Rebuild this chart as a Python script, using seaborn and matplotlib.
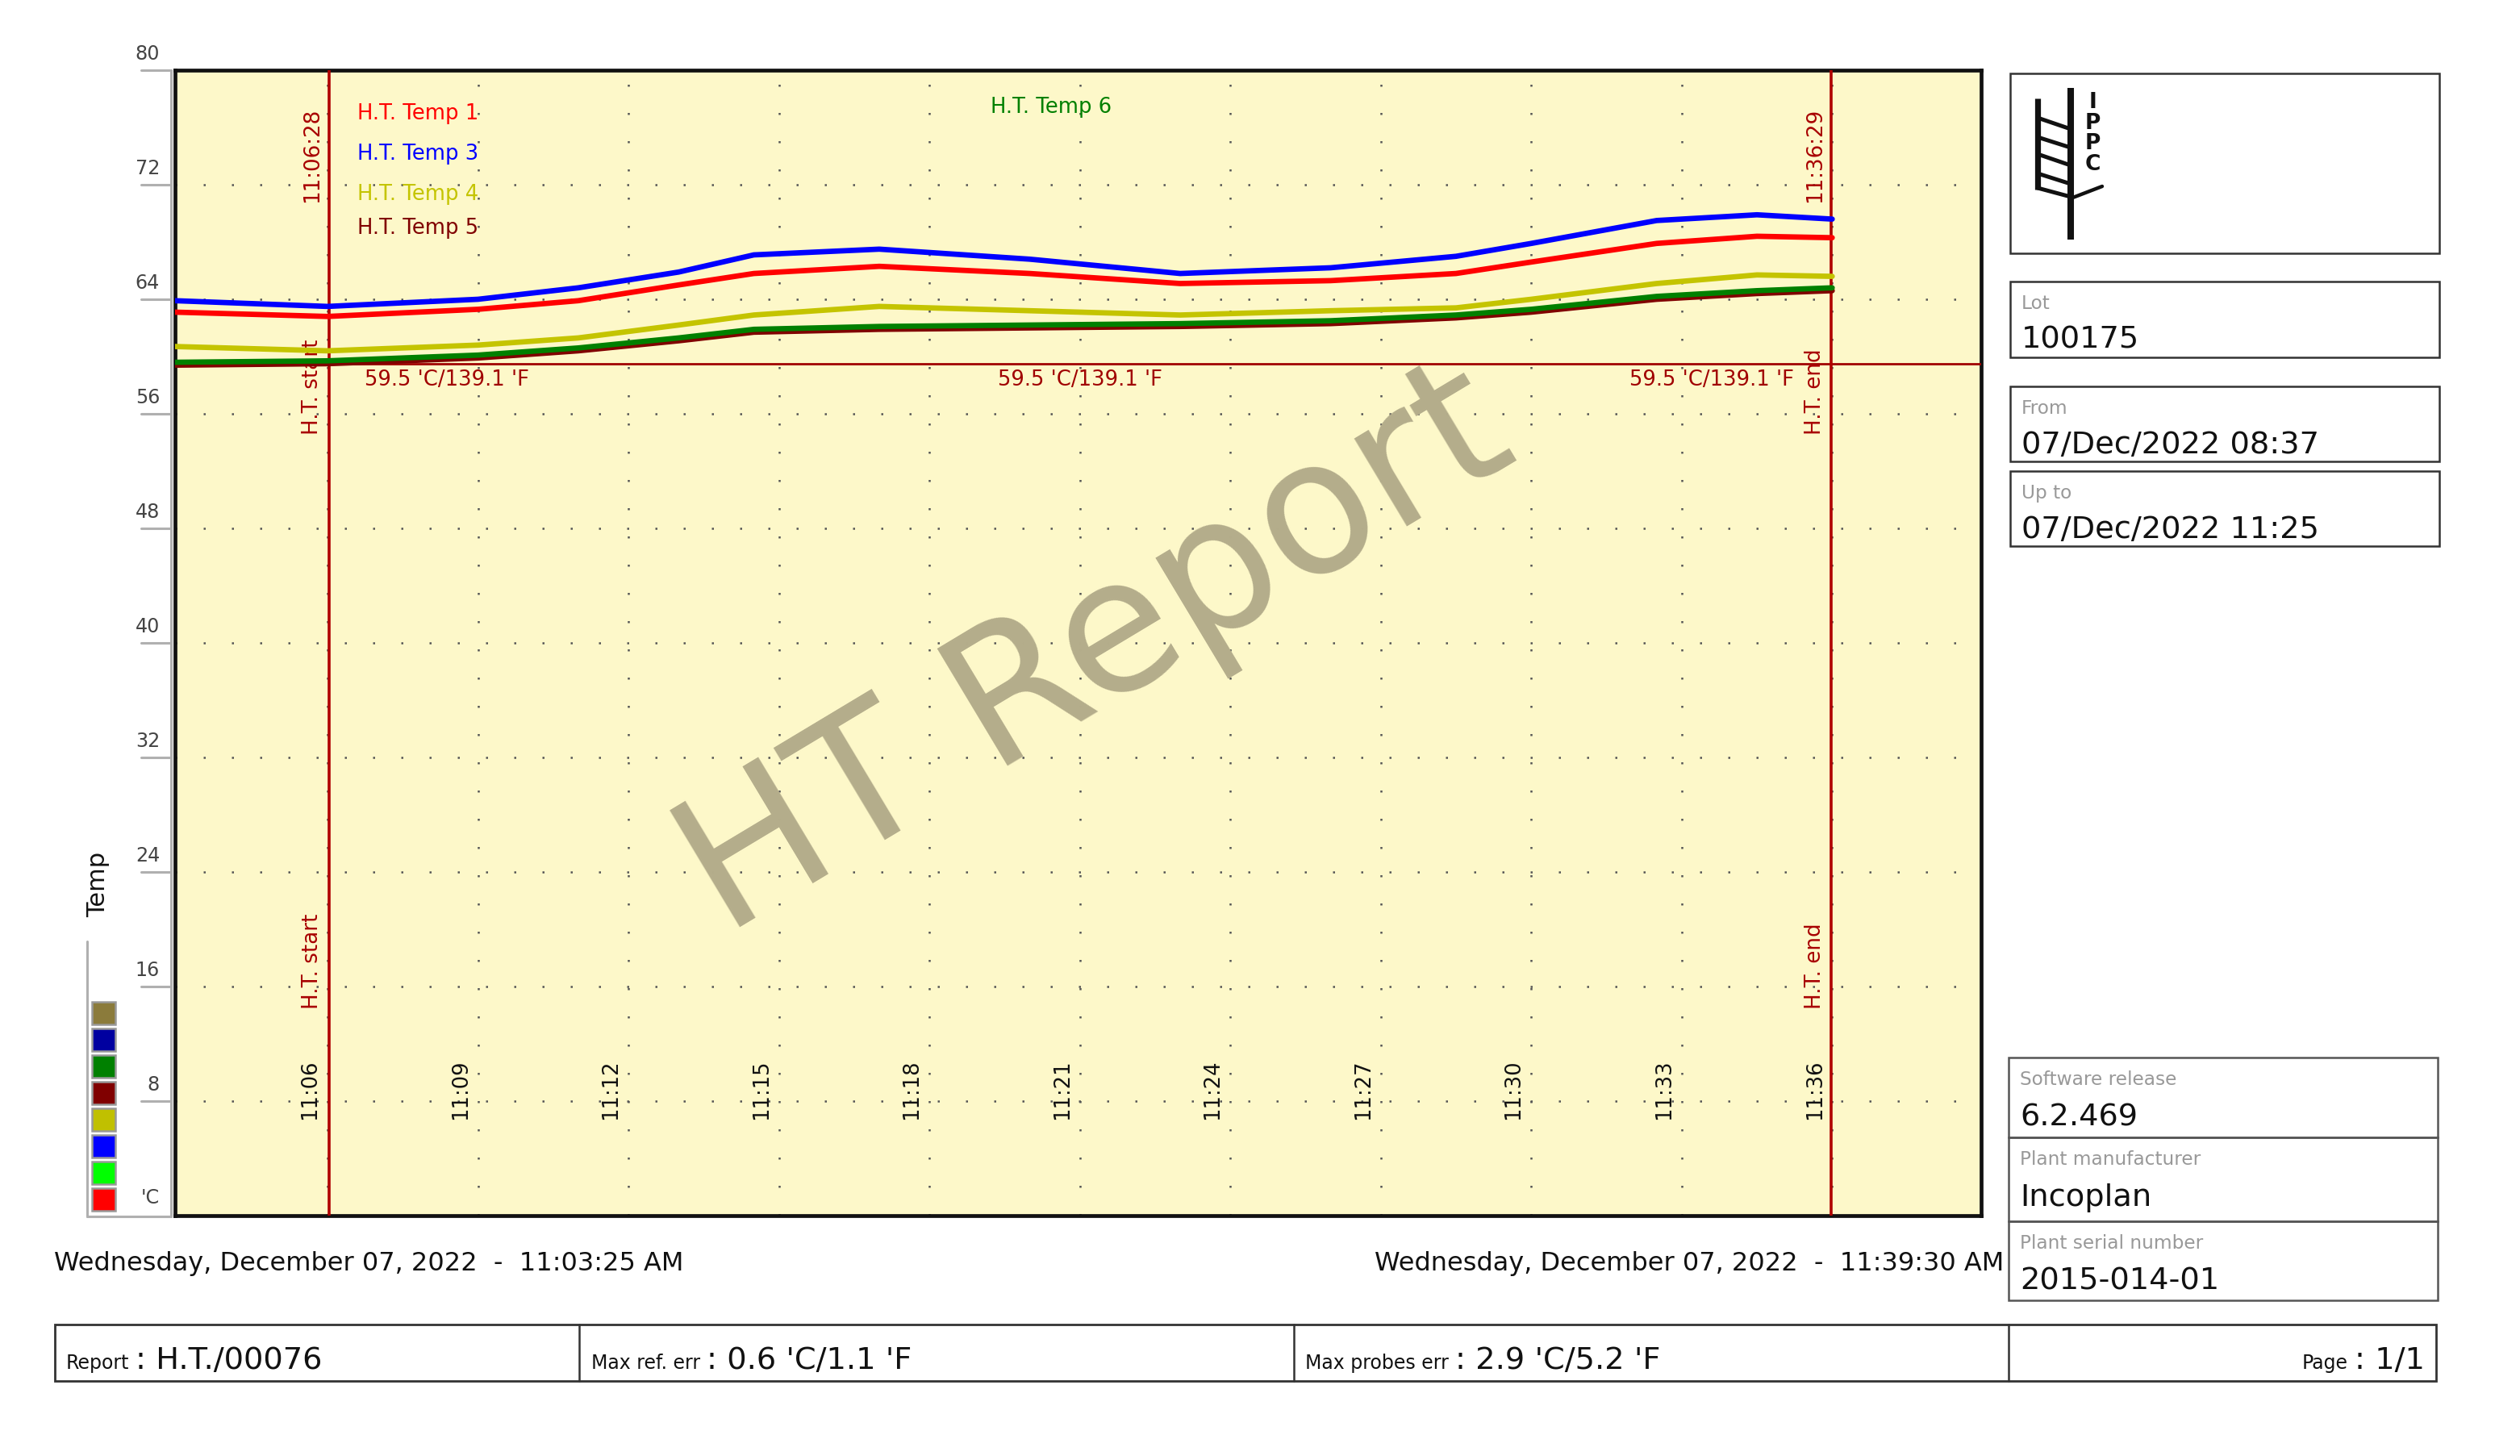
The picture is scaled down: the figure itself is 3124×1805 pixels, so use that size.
import numpy as np
import pandas as pd
import matplotlib
matplotlib.use("Agg")
import matplotlib.pyplot as plt
import seaborn as sns
from matplotlib.patches import Rectangle
from matplotlib.lines import Line2D

# ---------------- data ----------------
minutes = [2.96, 6.0, 9.0, 11.0, 13.0, 14.5, 17.0, 20.0, 23.0, 26.0, 28.5, 30.0, 32.5, 34.5, 36.0]
temp1 = [63.1, 62.8, 63.3, 63.9, 65.0, 65.8, 66.3, 65.8, 65.1, 65.3, 65.8, 66.6, 67.9, 68.4, 68.3]
temp3 = [63.9, 63.5, 64.0, 64.8, 65.9, 67.1, 67.5, 66.8, 65.8, 66.2, 67.0, 67.9, 69.5, 69.9, 69.6]
temp4 = [60.7, 60.4, 60.8, 61.3, 62.2, 62.9, 63.5, 63.2, 62.9, 63.2, 63.4, 64.0, 65.1, 65.7, 65.6]
temp5 = [59.4, 59.5, 59.9, 60.4, 61.1, 61.7, 61.9, 62.0, 62.1, 62.3, 62.7, 63.1, 64.0, 64.4, 64.6]
temp6 = [59.6, 59.7, 60.1, 60.6, 61.3, 61.9, 62.1, 62.2, 62.3, 62.5, 62.9, 63.3, 64.2, 64.6, 64.8]
series_names = ["H.T. Temp 1", "H.T. Temp 3", "H.T. Temp 4", "H.T. Temp 5", "H.T. Temp 6"]
series_colors = ["#ff0000", "#0000ff", "#c4c400", "#800000", "#008000"]

ref_temp = 59.5
ref_label = "59.5 'C/139.1 'F"
ht_start, ht_end = 6.03, 35.98
ht_start_label, ht_end_label = "11:06:28", "11:36:29"
time_ticks = [6, 9, 12, 15, 18, 21, 24, 27, 30, 33, 36]
time_tick_labels = ["11:06", "11:09", "11:12", "11:15", "11:18", "11:21",
                    "11:24", "11:27", "11:30", "11:33", "11:36"]
y_ticks = [8, 16, 24, 32, 40, 48, 56, 64, 72, 80]
swatch_colors = ["#8b7b3b", "#0000a0", "#008000", "#800000", "#c0c000", "#0000ff", "#00ff00", "#ff0000"]

date_start = "Wednesday, December 07, 2022  -  11:03:25 AM"
date_end = "Wednesday, December 07, 2022  -  11:39:30 AM"
info_top = [("Lot", "100175"), ("From", "07/Dec/2022 08:37"), ("Up to", "07/Dec/2022 11:25")]
info_bottom = [("Software release", "6.2.469"), ("Plant manufacturer", "Incoplan"),
               ("Plant serial number", "2015-014-01")]
footer = [("Report", ": H.T./00076"), ("Max ref. err", ": 0.6 'C/1.1 'F"),
          ("Max probes err", ": 2.9 'C/5.2 'F")]
page_label, page_value = "Page", ": 1/1"

# ---------------- figure ----------------
W, H, DPI = 3124, 1806, 200
sns.set_theme(style="white")
plt.rcParams['font.family'] = ['DejaVu Sans']
fig = plt.figure(figsize=(W / DPI, H / DPI), dpi=DPI)
fig.patch.set_facecolor("white")


def fx(x):
    return x / W


def fy(y):
    return 1 - y / H


L, R, T, B = 217, 2456, 88, 1508
ax = fig.add_axes([fx(L), fy(B), (R - L) / W, (B - T) / H])
ax.set_facecolor("#fdf8c9")

rows = []
for name, vals in zip(series_names, [temp1, temp3, temp4, temp5, temp6]):
    for m, v in zip(minutes, vals):
        rows.append({"minute": m, "temp": v, "probe": name})
df = pd.DataFrame(rows)

sns.lineplot(data=df, x="minute", y="temp", hue="probe", hue_order=series_names,
             palette=dict(zip(series_names, series_colors)), linewidth=2.4,
             legend=False, ax=ax, estimator=None, sort=False, zorder=6)

ax.set_xlim(2.96, 38.97)
ax.set_ylim(0, 80)
ax.set_xticks([])
ax.set_yticks([])
ax.set_xlabel("")
ax.set_ylabel("")
for s in ax.spines.values():
    s.set_color("#111111")
    s.set_linewidth(1.7)

# dotted grid
for t in time_ticks:
    ax.axvline(t, color="#555555", lw=0.9, ls=(0, (1, 13)), zorder=1)
for yv in y_ticks[:-1]:
    ax.axhline(yv, color="#555555", lw=0.9, ls=(0, (1, 13)), zorder=1)

# watermark
ax.text(0.510, 0.492, "HT Report", transform=ax.transAxes, rotation=31,
        ha="center", va="center", rotation_mode="anchor",
        fontsize=83, color="#b4ad8b", zorder=2)

# reference line
ax.axhline(ref_temp, color="#a00000", lw=1.0, zorder=4)
ytr = ax.get_yaxis_transform()
for xa in [0.1505, 0.501, 0.851]:
    ax.text(xa, ref_temp - 0.35, ref_label, transform=ytr, ha="center", va="top",
            fontsize=9.3, color="#a00000", zorder=5)

# HT start / end
dred = "#a80000"
for xv, lab in [(ht_start, ht_start_label), (ht_end, ht_end_label)]:
    ax.axvline(xv, color="#b00000", lw=1.3, zorder=4)
    ax.text(xv - 0.12, 70.8, lab, rotation=90, ha="right", va="bottom",
            fontsize=9.4, color=dred, zorder=5)
    word = "H.T. start" if xv == ht_start else "H.T. end"
    for yb in [54.6, 14.5]:
        ax.text(xv - 0.12, yb, word, rotation=90, ha="right", va="bottom",
                fontsize=9.4, color=dred, zorder=5)

# time tick labels inside plot
for t, lab in zip(time_ticks, time_tick_labels):
    ax.text(t - 0.14, 6.76, lab, rotation=90, ha="right", va="bottom",
            fontsize=9.3, color="#111111", zorder=5)

# series labels
leg_pos = [(0.1010, 0.9577), (0.1010, 0.9225), (0.1010, 0.8873), (0.1010, 0.8577), (0.4515, 0.9634)]
for (xa, ya), name, col in zip(leg_pos, series_names, series_colors):
    ax.text(xa, ya, name, transform=ax.transAxes, ha="left", va="baseline",
            fontsize=9.3, color=col, zorder=5)

# ---------------- left axis decorations ----------------
ppu = (B - T) / 80.0
axis_gray = "#b0b0b0"
fig.add_artist(Line2D([fx(212), fx(212)], [fy(T), fy(B + 1)], color=axis_gray, lw=1.1))
for v in y_ticks:
    py = B - v * ppu
    fig.add_artist(Line2D([fx(175), fx(212)], [fy(py), fy(py)], color=axis_gray, lw=1.1))
    fig.text(fx(198), fy(py - 14), str(v), ha="right", va="baseline", fontsize=8.6, color="#444444")
fig.text(fx(198), fy(1492), "'C", ha="right", va="baseline", fontsize=8.6, color="#444444")
fig.add_artist(Line2D([fx(108), fx(108)], [fy(1168), fy(1509)], color=axis_gray, lw=1.1))
fig.add_artist(Line2D([fx(108), fx(212)], [fy(1509), fy(1509)], color=axis_gray, lw=1.1))
for i, c in enumerate(swatch_colors):
    top = 1243 + 33 * i
    fig.add_artist(Rectangle((fx(114), fy(top + 28)), 29 / W, 28 / H, transform=fig.transFigure,
                             facecolor=c, edgecolor="#999999", lw=0.9))
fig.text(fx(122), fy(1096), "Temp", rotation=90, ha="center", va="center", fontsize=11, color="#111111")

# dates under the chart
fig.text(fx(67), fy(1575), date_start, ha="left", va="baseline", fontsize=11.5, color="#111111")
fig.text(fx(2484), fy(1575), date_end, ha="right", va="baseline", fontsize=11.5, color="#111111")


# ---------------- right info panels ----------------
def box(x0, y0, x1, y1, ec="#333333", lw=0.9):
    fig.add_artist(Rectangle((fx(x0), fy(y1)), (x1 - x0) / W, (y1 - y0) / H,
                             transform=fig.transFigure, facecolor="none", edgecolor=ec, lw=lw))


box(2492, 92, 3024, 315)
top_boxes = [(350, 444), (480, 573), (585, 678)]
for (y0, y1), (lab, val) in zip(top_boxes, info_top):
    box(2492, y0, 3024, y1)
    fig.text(fx(2506), fy(y0 + 33), lab, ha="left", va="baseline", fontsize=8.4, color="#999999")
    fig.text(fx(2506), fy(y0 + 82), val, ha="left", va="baseline", fontsize=13.8, color="#111111")
bot_boxes = [(1312, 1411), (1411, 1515), (1515, 1613)]
for (y0, y1), (lab, val) in zip(bot_boxes, info_bottom):
    box(2490, y0, 3022, y1, ec="#555555")
    fig.text(fx(2504), fy(y0 + 33), lab, ha="left", va="baseline", fontsize=8.4, color="#999999")
    fig.text(fx(2504), fy(y0 + 84), val, ha="left", va="baseline", fontsize=13.8, color="#111111")

# logo (IPPC)
k = "#111111"
fig.add_artist(Line2D([fx(2567)] * 2, [fy(110), fy(298)], color=k, lw=2.9, solid_capstyle="butt"))
fig.add_artist(Line2D([fx(2526)] * 2, [fy(123), fy(236)], color=k, lw=2.6, solid_capstyle="butt"))
for yl, yr in [(147, 161), (171, 184), (192, 206), (216, 229), (234, 245)]:
    fig.add_artist(Line2D([fx(2526), fx(2567)], [fy(yl), fy(yr)], color=k, lw=1.8))
fig.add_artist(Line2D([fx(2567), fx(2606)], [fy(247), fy(232)], color=k, lw=1.6))
for ch, yc in zip("IPPC", [127, 153, 178, 204]):
    fig.text(fx(2594), fy(yc), ch, ha="center", va="center", fontsize=9.5,
             fontweight="heavy", color=k)

# ---------------- footer ----------------
box(68, 1643, 3020, 1713, ec="#333333", lw=1.0)
for xd in [718, 1604, 2490]:
    fig.add_artist(Line2D([fx(xd)] * 2, [fy(1643), fy(1713)], color="#333333", lw=0.9))
fig.canvas.draw()
renderer = fig.canvas.get_renderer()
for x0, (lab, val) in zip([82, 733, 1618], footer):
    t1 = fig.text(fx(x0), fy(1697), lab, ha="left", va="baseline", fontsize=8.5, color="#111111")
    bb = t1.get_window_extent(renderer)
    fig.text((bb.x1 + 8) / W, fy(1697), val, ha="left", va="baseline", fontsize=13.8, color="#111111")
t2 = fig.text(fx(3006), fy(1697), page_value, ha="right", va="baseline", fontsize=13.8, color="#111111")
bb = t2.get_window_extent(renderer)
fig.text((bb.x0 - 8) / W, fy(1697), page_label, ha="right", va="baseline", fontsize=8.5, color="#111111")

fig.savefig("out.png", dpi=DPI, facecolor="white")
